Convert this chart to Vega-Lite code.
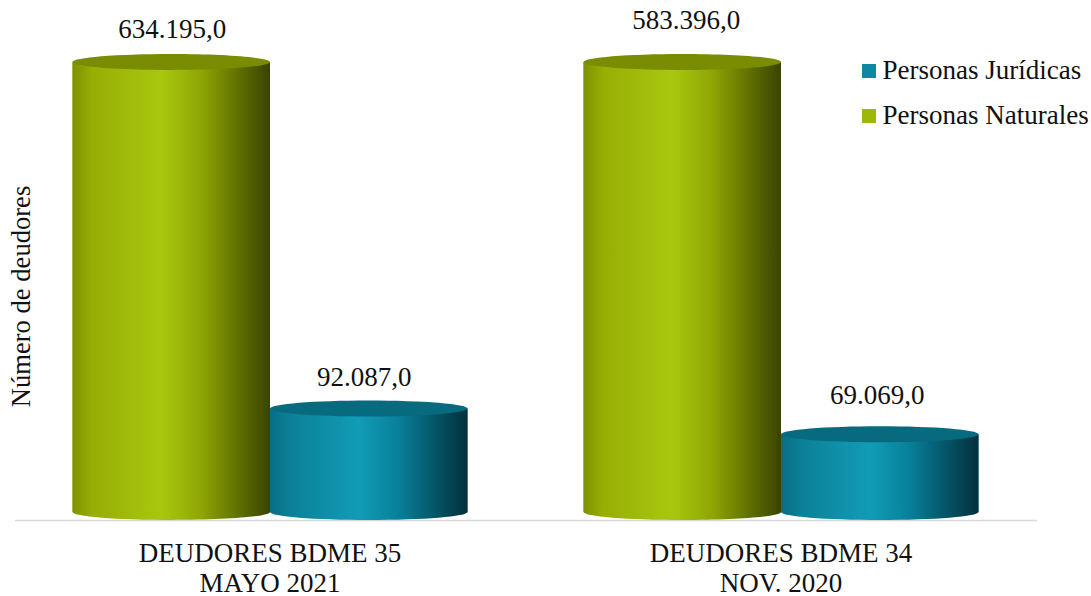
{
"$schema":"https://vega.github.io/schema/vega-lite/v6.json",
"width":1022,"height":450,"autosize":"none",
"padding":{"left":14.5,"top":62,"right":54.5,"bottom":84},
"background":"white",
"config":{"font":"Liberation Serif","view":{"stroke":null},"locale":{"number":{"decimal":",","thousands":".","grouping":[3],"currency":["","€"]}}},
"data":{"values":[
{"corte":"DEUDORES BDME 35|MAYO 2021","tipo":"Personas Naturales","deudores":634195},
{"corte":"DEUDORES BDME 35|MAYO 2021","tipo":"Personas Jurídicas","deudores":92087},
{"corte":"DEUDORES BDME 34|NOV. 2020","tipo":"Personas Naturales","deudores":583396},
{"corte":"DEUDORES BDME 34|NOV. 2020","tipo":"Personas Jurídicas","deudores":69069}
]},
"encoding":{
"x":{"field":"corte","type":"nominal","sort":null,"scale":{"paddingInner":0.227,"paddingOuter":0.1135},
"axis":{"title":null,"offset":8,"ticks":false,"labelAngle":0,"labelFontSize":27,"labelLimit":500,"labelColor":"#111111","labelPadding":20,"labelLineHeight":30,"domainColor":"#D9D9D9","domainWidth":1.5,"labelExpr":"split(datum.label,'|')"}},
"xOffset":{"field":"tipo","type":"nominal","sort":["Personas Naturales","Personas Jurídicas"],"scale":{"paddingInner":0,"paddingOuter":0}},
"y":{"field":"deudores","type":"quantitative","scale":{"domain":[0,400000],"clamp":true,"nice":false},
"axis":{"title":"Número de deudores","titleFontSize":26.6,"titleFontWeight":"normal","titleColor":"#111111","titleX":21,"titleY":234,"titleAnchor":"middle","labels":false,"ticks":false,"domain":false,"grid":false}}
},
"layer":[
{"mark":{"type":"bar"},
 "encoding":{"color":{"field":"tipo","type":"nominal","scale":{"domain":["Personas Jurídicas","Personas Naturales"],"range":["#0E87A1","#9FB708"]},
  "legend":{"title":null,"orient":"none","legendX":841,"legendY":-4,"symbolType":"square","symbolSize":196,"symbolStrokeWidth":0,"labelFontSize":27,"labelLimit":400,"labelColor":"#111111","rowPadding":18,"labelOffset":0,"clipHeight":26}}}},
{"transform":[{"filter":"datum.tipo==='Personas Naturales'"}],
 "mark":{"type":"bar","color":{"gradient":"linear","x1":0,"x2":1,"y1":0,"y2":0,"stops":[{"offset":0,"color":"#7E9100"},{"offset":0.1,"color":"#97AE04"},{"offset":0.45,"color":"#A9C70F"},{"offset":0.65,"color":"#8FA604"},{"offset":0.85,"color":"#5E6D00"},{"offset":1,"color":"#3A4300"}]}}},
{"transform":[{"filter":"datum.tipo==='Personas Jurídicas'"}],
 "mark":{"type":"bar","color":{"gradient":"linear","x1":0,"x2":1,"y1":0,"y2":0,"stops":[{"offset":0,"color":"#086E85"},{"offset":0.1,"color":"#0B8098"},{"offset":0.45,"color":"#129CB6"},{"offset":0.65,"color":"#08809A"},{"offset":0.85,"color":"#055263"},{"offset":1,"color":"#03303C"}]}}},
{"transform":[{"filter":"datum.tipo==='Personas Naturales'"}],
 "mark":{"type":"point","filled":true,"opacity":1,"strokeWidth":0,"size":39006,"shape":"M-1,0A1,0.081 0 1 0 1,0A1,0.081 0 1 0 -1,0Z","color":{"gradient":"linear","x1":0,"x2":1,"y1":0,"y2":0,"stops":[{"offset":0,"color":"#7E9100"},{"offset":0.1,"color":"#97AE04"},{"offset":0.45,"color":"#A9C70F"},{"offset":0.65,"color":"#8FA604"},{"offset":0.85,"color":"#5E6D00"},{"offset":1,"color":"#3A4300"}]}},
 "encoding":{"y":{"datum":0}}},
{"transform":[{"filter":"datum.tipo==='Personas Jurídicas'"}],
 "mark":{"type":"point","filled":true,"opacity":1,"strokeWidth":0,"size":39006,"shape":"M-1,0A1,0.081 0 1 0 1,0A1,0.081 0 1 0 -1,0Z","color":{"gradient":"linear","x1":0,"x2":1,"y1":0,"y2":0,"stops":[{"offset":0,"color":"#086E85"},{"offset":0.1,"color":"#0B8098"},{"offset":0.45,"color":"#129CB6"},{"offset":0.65,"color":"#08809A"},{"offset":0.85,"color":"#055263"},{"offset":1,"color":"#03303C"}]}},
 "encoding":{"y":{"datum":0}}},
{"transform":[{"filter":"datum.tipo==='Personas Naturales'"}],
 "mark":{"type":"point","filled":true,"opacity":1,"strokeWidth":0,"size":39006,"shape":"M-1,0A1,0.081 0 1 0 1,0A1,0.081 0 1 0 -1,0Z","color":"#7A8C02"}},
{"transform":[{"filter":"datum.tipo==='Personas Jurídicas'"}],
 "mark":{"type":"point","filled":true,"opacity":1,"strokeWidth":0,"size":39006,"shape":"M-1,0A1,0.081 0 1 0 1,0A1,0.081 0 1 0 -1,0Z","color":"#086A7E"}},
{"transform":[{"filter":"datum.deudores===634195"}],
 "mark":{"type":"text","fontSize":27,"color":"#111111","dy":-32,"dx":1},
 "encoding":{"text":{"field":"deudores","type":"quantitative","format":",.1f"}}},
{"transform":[{"filter":"datum.deudores===583396"}],
 "mark":{"type":"text","fontSize":27,"color":"#111111","dy":-41,"dx":4},
 "encoding":{"text":{"field":"deudores","type":"quantitative","format":",.1f"}}},
{"transform":[{"filter":"datum.deudores===92087"}],
 "mark":{"type":"text","fontSize":27,"color":"#111111","dy":-30,"dx":-4.5},
 "encoding":{"text":{"field":"deudores","type":"quantitative","format":",.1f"}}},
{"transform":[{"filter":"datum.deudores===69069"}],
 "mark":{"type":"text","fontSize":27,"color":"#111111","dy":-38,"dx":-2.5},
 "encoding":{"text":{"field":"deudores","type":"quantitative","format":",.1f"}}}
]
}
